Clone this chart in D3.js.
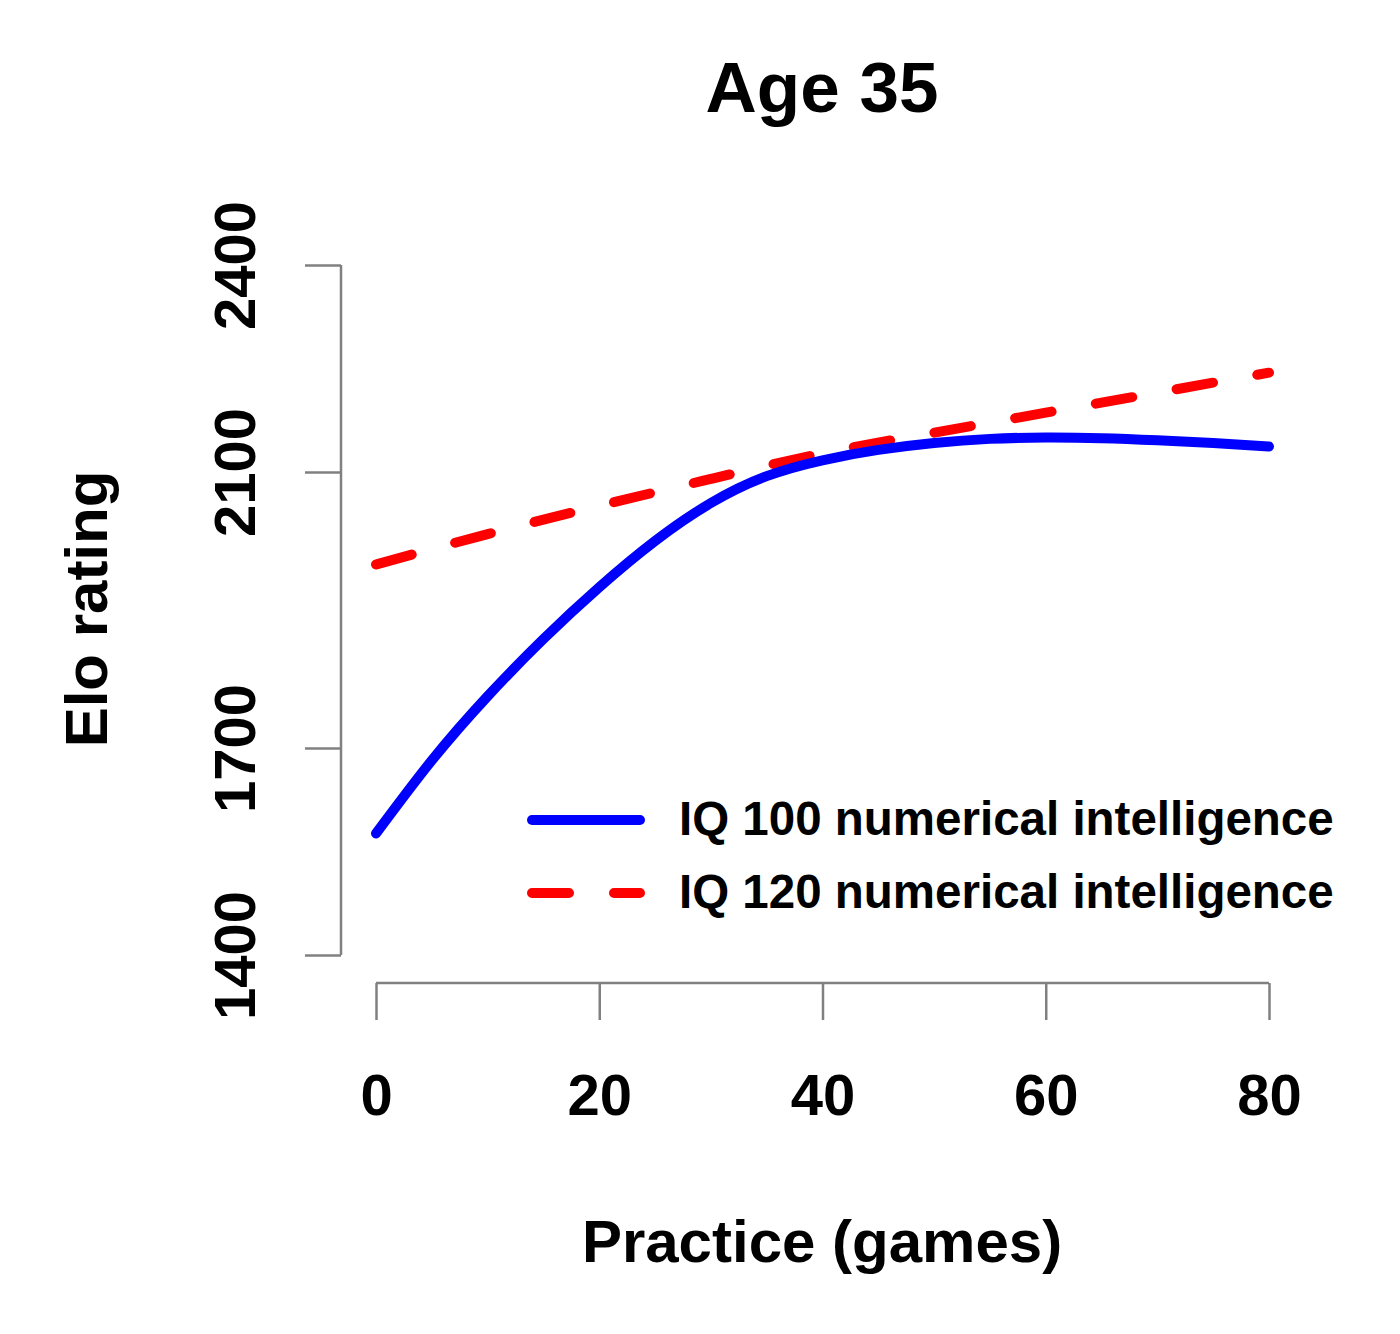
<!DOCTYPE html>
<html>
<head>
<meta charset="utf-8">
<script src="https://cdn.jsdelivr.net/npm/d3@7"></script>
<style>
  html, body { margin: 0; padding: 0; background: #fff; }
  text { font-family: "Liberation Sans", Arial, sans-serif; font-weight: bold; fill: #000; }
</style>
</head>
<body>
<svg id="chart" width="1400" height="1334"></svg>
<script>
// values
const practice = [0, 5, 10, 15, 20, 25, 30, 35, 40, 45, 50, 55, 60, 65, 70, 75, 80];
const iq100 = [1576, 1682, 1775, 1858, 1933, 2000, 2055, 2094, 2117, 2132, 2142, 2148, 2150, 2149, 2146, 2142, 2137];
const practice120 = [0, 10, 20, 30, 40, 50, 60, 70, 80];
const iq120 = [1966, 2010, 2051, 2090, 2127, 2157, 2186, 2215, 2244];
const xTicks = [0, 20, 40, 60, 80];
const yTicks = [1400, 1700, 2100, 2400];
const legendLabels = ["IQ 100 numerical intelligence", "IQ 120 numerical intelligence"];

const svg = d3.select("#chart");

const x = d3.scaleLinear().domain([0, 80]).range([376, 1269]);
const y = d3.scaleLinear().domain([1400, 2400]).range([955, 265]);

const axisColor = "#808080";

// y axis (R style, labels rotated)
const gy = svg.append("g")
  .attr("transform", "translate(341,0)")
  .call(d3.axisLeft(y).tickValues(yTicks).tickSize(36).tickSizeOuter(0).tickFormat(d3.format("d")));
gy.selectAll("path, line").attr("stroke", axisColor).attr("stroke-width", 2.5);
gy.selectAll("text")
  .attr("x", null).attr("dy", null)
  .attr("transform", "translate(-86,0) rotate(-90)")
  .attr("text-anchor", "middle")
  .style("font-size", "58px")
  .style("font-family", "'Liberation Sans', Arial, sans-serif")
  .style("font-weight", "bold")
  .attr("fill", "#000");

// x axis
const gx = svg.append("g")
  .attr("transform", "translate(0,983)")
  .call(d3.axisBottom(x).tickValues(xTicks).tickSize(37).tickSizeOuter(0));
gx.selectAll("path, line").attr("stroke", axisColor).attr("stroke-width", 2.5);
gx.selectAll("text")
  .attr("y", 132).attr("dy", null)
  .style("font-size", "58px")
  .style("font-family", "'Liberation Sans', Arial, sans-serif")
  .style("font-weight", "bold")
  .attr("fill", "#000");
gx.select(".domain").attr("d", `M${x(0)},0H${x(80)}`);
gy.select(".domain").attr("d", `M0,${y(1400)}V${y(2400)}`);

// curves
const line = d3.line().x(d => x(d[0])).y(d => y(d[1])).curve(d3.curveNatural);

svg.append("path")
  .datum(practice120.map((p, i) => [p, iq120[i]]))
  .attr("d", line)
  .attr("fill", "none")
  .attr("stroke", "#ff0000")
  .attr("stroke-width", 10)
  .attr("stroke-linecap", "round")
  .attr("stroke-dasharray", "37 45");

svg.append("path")
  .datum(practice.map((p, i) => [p, iq100[i]]))
  .attr("d", line)
  .attr("fill", "none")
  .attr("stroke", "#0000ff")
  .attr("stroke-width", 10)
  .attr("stroke-linecap", "round");

// legend
const legend = svg.append("g");
const legendY = [820, 893];
const legendStyle = [
  { stroke: "#0000ff", dash: null },
  { stroke: "#ff0000", dash: "37 45" }
];
legendLabels.forEach((lab, i) => {
  legend.append("line")
    .attr("x1", 532).attr("x2", 640)
    .attr("y1", legendY[i]).attr("y2", legendY[i])
    .attr("stroke", legendStyle[i].stroke)
    .attr("stroke-width", 10)
    .attr("stroke-linecap", "round")
    .attr("stroke-dasharray", legendStyle[i].dash);
  legend.append("text")
    .attr("x", 679).attr("y", legendY[i] + 15)
    .style("font-size", "47.5px")
    .text(lab);
});

// titles
svg.append("text")
  .attr("x", 822).attr("y", 112)
  .attr("text-anchor", "middle")
  .style("font-size", "71px")
  .text("Age 35");

svg.append("text")
  .attr("x", 822).attr("y", 1262)
  .attr("text-anchor", "middle")
  .style("font-size", "60px")
  .text("Practice (games)");

svg.append("text")
  .attr("transform", "translate(107,609) rotate(-90)")
  .attr("text-anchor", "middle")
  .style("font-size", "60px")
  .text("Elo rating");
</script>
</body>
</html>
